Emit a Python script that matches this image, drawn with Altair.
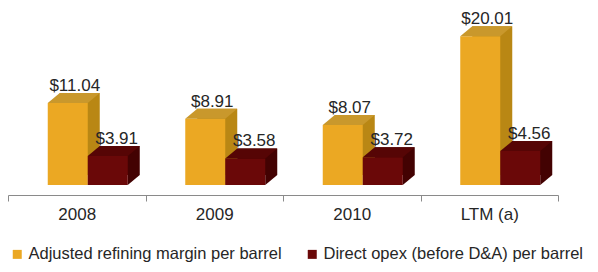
import altair as alt
import pandas as pd

categories = ["2008", "2009", "2010", "LTM (a)"]
margin_vals = [11.04, 8.91, 8.07, 20.01]
opex_vals = [3.91, 3.58, 3.72, 4.56]
series_names = ["Adjusted refining margin per barrel", "Direct opex (before D&A) per barrel"]

rows = []
for c, m, o in zip(categories, margin_vals, opex_vals):
    rows.append({"category": c, "series": series_names[0], "value": m})
    rows.append({"category": c, "series": series_names[1], "value": o})
df = pd.DataFrame(rows)

FONT = "Liberation Sans"
W = 40          # bar front width (px)
DX, DY = 12, 10  # 3D depth offsets (px)

styles = {
    series_names[0]: {"off": -9, "front": "#EBA823", "side": "#B98714", "top": "#C9982C", "lab": -2},
    series_names[1]: {"off": 31, "front": "#6A0808", "side": "#430202", "top": "#560505", "lab": 40},
}

x_enc = alt.X("category:N", sort=categories, title=None,
              scale=alt.Scale(paddingInner=0, paddingOuter=0),
              axis=alt.Axis(labelAngle=0, domainColor="#8a8a8a", tickColor="#8a8a8a",
                            tickBand="extent", tickSize=6, offset=10, labelFontSize=17,
                            labelFont=FONT, labelColor="#262626", labelPadding=5, grid=False))
y_scale = alt.Scale(domain=[0, 23.8], nice=False)
y_enc = alt.Y("value:Q", scale=y_scale, axis=None)

base = alt.Chart(df)
layers = []
for s in series_names:
    st = styles[s]
    d = base.transform_filter(alt.datum.series == s)
    off = st["off"]
    # back (side) block of the 3D bar
    layers.append(d.mark_bar(width=W, xOffset=off + DX, x2Offset=off + DX, yOffset=-DY, y2Offset=-DY,
                             color=st["side"]).encode(x=x_enc, y=y_enc))
    # bottom-right triangle of the side face
    layers.append(d.mark_point(shape="M0,0L0,-10L12,-10Z", size=4, filled=True, opacity=1,
                               strokeWidth=0, color=st["side"], xOffset=off + W / 2)
                  .encode(x=x_enc, y=alt.Y(datum=0, scale=y_scale, axis=None)))
for s in series_names:
    st = styles[s]
    d = base.transform_filter(alt.datum.series == s)
    off = st["off"]
    # front face
    layers.append(d.mark_bar(width=W, xOffset=off, x2Offset=off).encode(
        x=x_enc, y=y_enc,
        color=alt.Color("series:N", sort=series_names,
                        scale=alt.Scale(domain=series_names,
                                        range=[styles[n]["front"] for n in series_names]),
                        legend=alt.Legend(title=None, orient="none", legendX=1, legendY=238,
                                          direction="horizontal", columns=2, symbolType="square",
                                          symbolSize=81, symbolStrokeWidth=0, symbolOpacity=1,
                                          labelFontSize=16.5, labelFont=FONT, labelColor="#262626",
                                          labelOffset=3, columnPadding=22, padding=0,
                                          labelLimit=400))))
    # top face
    layers.append(d.mark_point(shape="M0,0L40,0L52,-10L12,-10Z", size=4, filled=True, opacity=1,
                               strokeWidth=0, color=st["top"], xOffset=off - W / 2)
                  .encode(x=x_enc, y=y_enc))
for s in series_names:
    st = styles[s]
    d = base.transform_filter(alt.datum.series == s)
    layers.append(d.mark_text(fontSize=17, font=FONT, color="#262626", baseline="alphabetic",
                              align="center", xOffset=st["lab"], dy=-12)
                  .encode(x=x_enc, y=y_enc, text=alt.Text("value:Q", format="$.2f")))

chart = alt.layer(*layers).properties(
    width=550, height=177,
    background="white",
    autosize=alt.AutoSizeParams(type="none"),
    padding={"left": 0, "top": 0, "right": 32, "bottom": 79},
).configure_view(strokeWidth=0, stroke="transparent")

chart.save("out.html", embed_options={"renderer": "svg", "actions": False})
